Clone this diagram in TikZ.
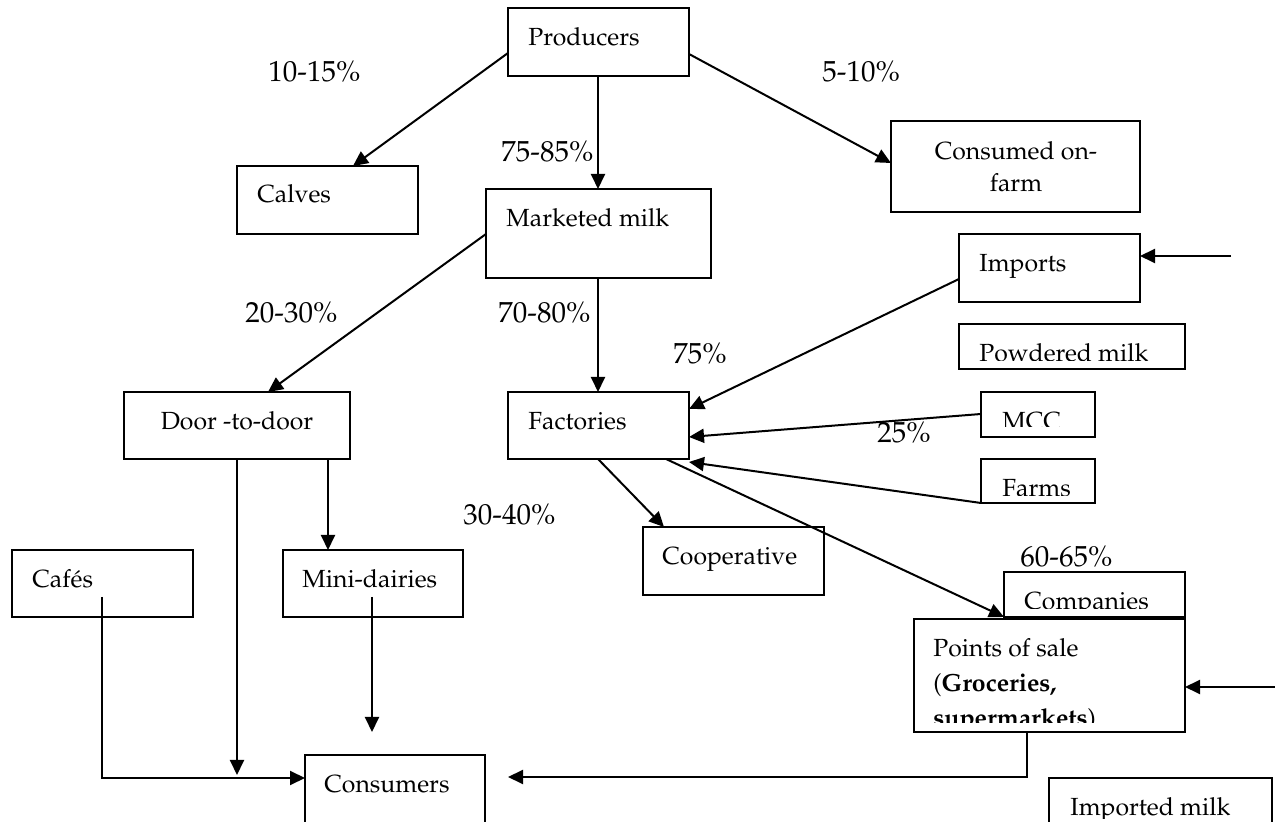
\documentclass[tikz,border=0pt]{standalone}
\usepackage[T1]{fontenc}
\renewcommand{\rmdefault}{ppl}
\usetikzlibrary{arrows.meta,calc}
\begin{document}
\begin{tikzpicture}[x=0.5pt,y=-0.5pt,
  box/.style={draw, fill=white, line width=1pt, inner sep=0pt, outer sep=0pt, anchor=north west},
  lbl/.style={anchor=base west, inner sep=0pt, font=\fontsize{12.4}{15}\selectfont},
  clbl/.style={anchor=base, inner sep=0pt, font=\fontsize{12.4}{15}\selectfont},
  pct/.style={anchor=base west, inner sep=0pt, font=\fontsize{14.5}{17}\selectfont},
  conn/.style={line width=1pt, -{Triangle[length=7.5pt,width=7pt]}},
  plain/.style={line width=1pt}]
\fill[white] (0,0) rectangle (1275,822);
\useasboundingbox (0,0) rectangle (1275,822);

% boxes
\node[box, minimum width=90.5pt, minimum height=34pt] (prod) at (508,8) {};
\node[box, minimum width=90.5pt, minimum height=34pt] (calves) at (237,166) {};
\node[box, minimum width=112.5pt, minimum height=44.5pt] (mkt) at (486,189) {};
\node[box, minimum width=124.5pt, minimum height=45.5pt] (conson) at (891,121) {};
\node[box, minimum width=90.5pt, minimum height=34pt] (imports) at (959,234) {};
\node[box, minimum width=113pt, minimum height=22.5pt] (powd) at (959,324) {};
\node[box, minimum width=57pt, minimum height=22.5pt] (mcc) at (981,392) {};
\node[box, minimum width=57pt, minimum height=22pt] (farms) at (981,459) {};
\node[box, minimum width=90.5pt, minimum height=33.5pt] (fact) at (508,392) {};
\node[box, minimum width=90.5pt, minimum height=34pt] (coop) at (643,527) {};
\node[box, minimum width=113pt, minimum height=33.5pt] (door) at (124,392) {};
\node[box, minimum width=90.5pt, minimum height=33.5pt] (cafes) at (12,550) {};
\node[box, minimum width=90pt, minimum height=33.5pt] (mini) at (283,550) {};
\node[box, minimum width=90pt, minimum height=45pt] (consumers) at (305,755) {};
\node[box, minimum width=90.5pt, minimum height=22.5pt] (comp) at (1004,572) {};
\node[box, minimum width=135.5pt, minimum height=56.5pt] (pos) at (914,619) {};
\node[box, minimum width=111.5pt, minimum height=35pt] (impmilk) at (1049,778) {};

% box texts
\node[lbl] (tprod) at (528,46) {Producers};
\node[lbl] (tcalves) at (257,203) {Calves};
\node[lbl] (tmkt) at (506,227) {Marketed milk};
\node[clbl] (tconson1) at (1016,160) {Consumed on-};
\node[clbl] (tconson2) at (1016,192) {farm};
\node[lbl] (timports) at (979,272) {Imports};
\node[lbl] (tfact) at (528,430) {Factories};
\node[lbl] (tcoop) at (662,565) {Cooperative};
\node[clbl] (tdoor) at (237,430) {Door -to-door};
\node[lbl] (tcafes) at (32,588) {Caf\'es};
\node[lbl] (tmini) at (302,588) {Mini-dairies};
\node[lbl] (tconsumers) at (324,793) {Consumers};
\node[lbl] (tpos1) at (933,657) {Points of sale};
\begin{scope}
  \clip (pos.north west) rectangle ($(pos.south east)+(0,-9)$);
  \node[lbl] (tpos2) at (933,692) {(\textbf{Groceries,}};
  \node[lbl] (tpos3) at (933,727) {\textbf{supermarkets})};
\end{scope}
\begin{scope}
  \clip (powd.north west) rectangle ($(powd.south east)+(0,-8)$);
  \node[lbl] (tpowd) at (979,362) {Powdered milk};
\end{scope}
\begin{scope}
  \clip (mcc.north west) rectangle ($(mcc.south east)+(0,-10)$);
  \node[lbl] (tmcc) at (1002,430) {MCC};
\end{scope}
\begin{scope}
  \clip (farms.north west) rectangle ($(farms.south east)+(0,-7)$);
  \node[lbl] (tfarms) at (1002,497) {Farms};
\end{scope}
\begin{scope}
  \clip (comp.north west) rectangle ($(comp.south east)+(0,-8)$);
  \node[lbl] (tcomp) at (1024,610) {Companies};
\end{scope}
\begin{scope}
  \clip (impmilk.north west) rectangle (1275,819);
  \node[lbl] (timpmilk) at (1070,816) {Imported milk};
\end{scope}

% percentages
\node[pct] (p1) at (268,82) {10-15\%};
\node[pct] (p2) at (822,82) {5-10\%};
\node[pct] (p3) at (501,162) {75-85\%};
\node[pct] (p4) at (245,323) {20-30\%};
\node[pct] (p5) at (498,323) {70-80\%};
\node[pct] (p6) at (673,364) {75\%};
\node[pct] (p7) at (877,443) {25\%};
\node[pct] (p8) at (463,525) {30-40\%};
\node[pct] (p9) at (1020,567) {60-65\%};

% free ends
\coordinate (dend) at ($(door.south west)+(113,316)$);
\coordinate (mend) at ($(mini.north west)+(89,182)$);
\coordinate (posend) at ($(consumers.north east)+(23,22)$);
\coordinate (impin) at (1231,256);
\coordinate (posin) at (1275,687);

% connectors
\draw[conn] ($(prod.north west)+(0,45)$) -- ($(calves.north west)+(116,0)$);
\draw[conn] ($(prod.south west)+(90,0)$) -- ($(mkt.north west)+(112,0)$);
\draw[conn] ($(prod.north east)+(0,46)$) -- ($(conson.north west)+(0,42)$);
\draw[conn] ($(mkt.north west)+(0,45)$) -- ($(door.north west)+(144,0)$);
\draw[conn] ($(mkt.south west)+(112,0)$) -- ($(fact.north west)+(90,0)$);
\draw[conn] ($(imports.north west)+(0,45)$) -- ($(fact.north east)+(0,17)$);
\draw[conn] ($(mcc.north west)+(0,22)$) -- ($(fact.north east)+(0,45)$);
\draw[conn] (farms.south west) -- ($(fact.north east)+(0,70)$);
\draw[conn] ($(fact.south west)+(90,0)$) -- ($(coop.north west)+(21,0)$);
\draw[conn] ($(fact.south west)+(158,0)$) -- (comp.south west);
\draw[conn] ($(door.south west)+(113,0)$) -- (dend);
\draw[conn] ($(door.south west)+(204,0)$) -- ($(mini.north west)+(45,0)$);
\draw[conn] ($(mini.north west)+(89,47)$) -- (mend);
\draw[conn] ($(cafes.north west)+(90,47)$) |- ($(consumers.north west)+(0,23)$);
\draw[conn] ($(pos.south west)+(113,0)$) |- (posend);
\draw[conn] (impin) -- ($(imports.north east)+(0,22)$);
\draw[conn] (posin) -- ($(pos.north east)+(0,68)$);
\end{tikzpicture}
\end{document}
